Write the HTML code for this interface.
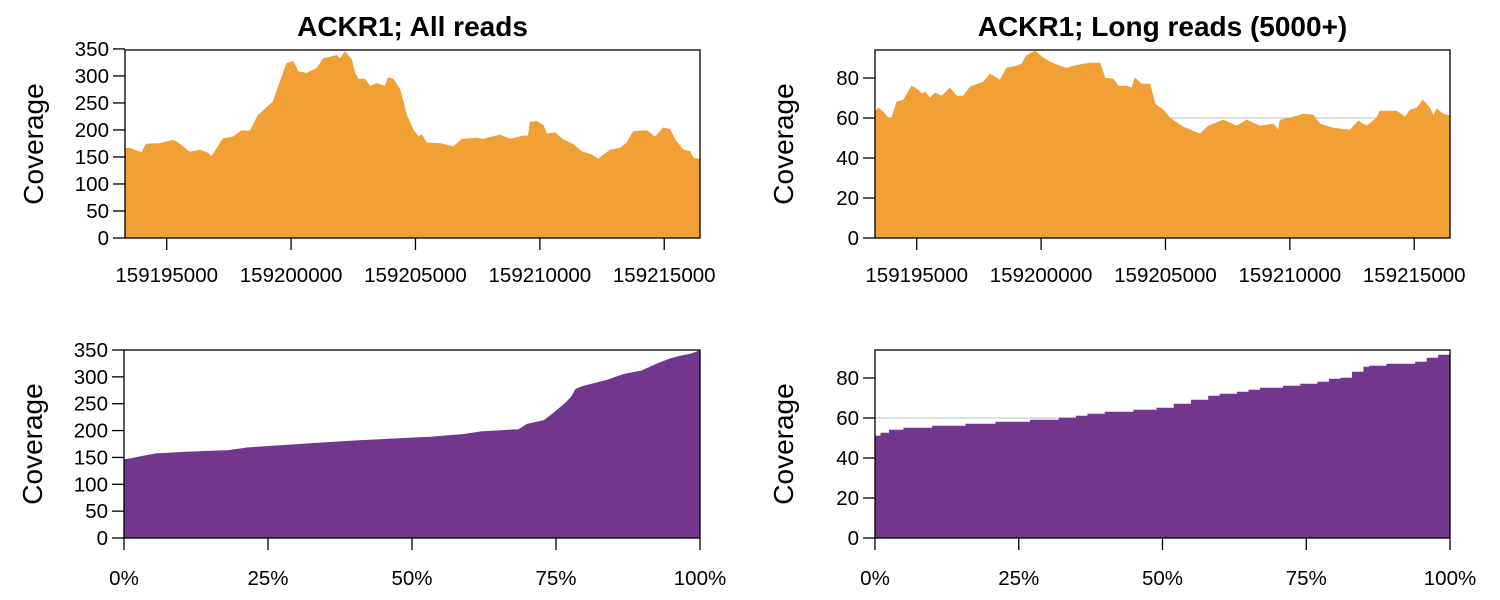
<!DOCTYPE html>
<html><head><meta charset="utf-8"><style>
html,body{margin:0;padding:0;background:#fff;}
svg{display:block;font-family:"Liberation Sans",Arial,sans-serif;}
</style></head><body>
<svg id="chart" width="1500" height="600" viewBox="0 0 1500 600" xmlns="http://www.w3.org/2000/svg"></svg>
<script>
// ---- data ----
const regionStart = 159193323;
const regionLength = 23115;
const genomicTicks = [159195000, 159200000, 159205000, 159210000, 159215000];
const allOffsets = [0,201,671,844,1407,1930,2078,2613,3015,3337,3485,3940,4342,4691,5025,5347,5950,6231,6500,6766,6967,7304,7706,7972,8510,8643,8844,9113,9246,9379,9648,9849,10118,10452,10585,10786,11055,11324,11590,11791,11928,12128,12261,12663,13198,13535,14138,14404,15075,15477,16012,16213,16281,16550,16816,16953,17286,17620,18022,18359,18761,19027,19497,19899,20168,20434,20972,21306,21640,21909,22110,22444,22713,22845,23115];
const allCoverage = [166,166,158,174,175,181,178,159,163,157,151,184,187,199,198,227,252,289,323,327,308,305,314,332,338,332,345,330,305,294,294,281,286,281,297,294,275,227,200,188,191,176,176,175,169,183,185,183,191,183,189,189,214,216,208,193,195,182,173,160,154,146,163,166,176,197,199,187,204,201,182,163,160,148,146];
const longOffsets = [0,133,334,535,671,872,1138,1475,1741,1877,2010,2211,2412,2681,3015,3284,3550,3819,4354,4623,5025,5294,5696,5897,6070,6432,6766,7035,7437,7706,7972,8374,8643,9045,9246,9580,9781,10118,10319,10452,10721,11055,11256,11590,11859,12394,13065,13399,14002,14540,14942,15477,16012,16213,16281,16816,17219,17620,17889,18424,19095,19429,19766,20168,20301,20972,21306,21507,21777,22018,22311,22444,22580,22845,23115];
const longCoverage = [63,65,63,60,60,68,69,76,74,72,73,70,72.5,71,75,71,71,75.5,78,82,79,85,86,87,91,93.5,90,88,86,85,86,87,87.5,87.5,80,79.5,76,76,75,80,77,77,67,64,60,55.5,52,56,59,56,59,56,57,54,59,60.5,62,61.5,57,55,54,58.5,56,60,63.5,63.5,60.5,64,65,69,65,61,64.5,62,61];
const allQuantFrac = [0,0.012,0.031,0.056,0.108,0.181,0.214,0.254,0.327,0.400,0.473,0.532,0.590,0.620,0.685,0.700,0.729,0.744,0.766,0.777,0.784,0.795,0.839,0.868,0.898,0.927,0.949,0.963,0.985,1];
const allQuantValue = [146,148,152,157,160,163,168,171,176,181,185,188,193,198,202,212,219,231,251,263,277,282,294,305,311,325,334,338,343,349];
const longQuantFrac = [0,0.01,0.025,0.05,0.1,0.158,0.21,0.27,0.32,0.35,0.37,0.40,0.45,0.49,0.52,0.55,0.58,0.60,0.63,0.65,0.67,0.71,0.74,0.77,0.79,0.81,0.83,0.85,0.86,0.89,0.92,0.94,0.96,0.98,1];
const longQuantValue = [51,52.5,54,55,56,57,58,59,60,61,62,63,64,65,67,69,71,72,73,74,75,76,77,78,79.5,80,83,85.5,86,87,87,88,90,91.5,93];
const allYTicks = [0,50,100,150,200,250,300,350];
const longYTicks = [0,20,40,60,80];
const pctTicks = [0,0.25,0.5,0.75,1];
const pctLabels = ["0%","25%","50%","75%","100%"];
const refLine = 60;

const NS = "http://www.w3.org/2000/svg";
const svg = document.getElementById("chart");
function mk(tag, attrs, parent){
  const e = document.createElementNS(NS, tag);
  for (const k in attrs) e.setAttribute(k, attrs[k]);
  (parent||svg).appendChild(e);
  return e;
}

function panel(opt){
  const g = mk("g", {});
  
  
  const L=opt.x0, R=opt.x1, T=opt.top, B=opt.bottom;
  const ys = v => B - (v/opt.ymax)*(B-T);
  const xs = opt.xs;
  if (opt.ref !== undefined){
    const rl = mk("line",{x1:L,x2:R,y1:ys(opt.ref),y2:ys(opt.ref),stroke:"#cccccc","stroke-width":1.2},g);
    
    
  }
  let d = "M"+xs(opt.xv[0])+","+B;
  for (let i=0;i<opt.xv.length;i++){
    const x = xs(opt.xv[i]), y = ys(opt.yv[i]);
    if (opt.step && i>0) d += " L"+x+","+ys(opt.yv[i-1]);
    d += " L"+x+","+y;
  }
  d += " L"+xs(opt.xv[opt.xv.length-1])+","+B+" Z";
  const area = mk("path",{d:d,fill:opt.color,stroke:opt.color,"stroke-width":0.6},g);
  
  
  const box = mk("rect",{x:L,y:T,width:R-L,height:B-T,fill:"none",stroke:"#000","stroke-width":1.3},g);
  
  
  opt.yticks.forEach(v=>{
    const y=ys(v);
    const t = mk("line",{x1:L-12,x2:L,y1:y,y2:y,stroke:"#000","stroke-width":1.3},g);
    
    
    const tx = mk("text",{x:L-16,y:y+7,"text-anchor":"end","font-size":20.5},g);
    tx.textContent = v;
    
    
  });
  opt.xticks.forEach((v,i)=>{
    const x=xs(v);
    const t = mk("line",{x1:x,x2:x,y1:B,y2:B+12,stroke:"#000","stroke-width":1.3},g);
    
    
    const tx = mk("text",{x:x,y:opt.xLabelY,"text-anchor":"middle","font-size":20.5},g);
    tx.textContent = opt.xlabels[i];
    
    
  });
  const yt = mk("text",{x:0,y:0,"text-anchor":"middle","font-size":28,transform:"translate("+(L-82)+","+((T+B)/2)+") rotate(-90)"},g);
  yt.textContent = "Coverage";
  
  
  if (opt.title){
    const tt = mk("text",{x:(L+R)/2,y:T-14,"text-anchor":"middle","font-size":28,"font-weight":"bold"},g);
    tt.textContent = opt.title;
    
    
  }
}

function genX(L,R){ return v => L + (v-regionStart)/regionLength*(R-L); }
function pctX(L,R){ return v => L + v*(R-L); }

panel({name:"all-reads-coverage-panel",areaName:"all-reads-coverage-area",x0:125,x1:700,top:50,bottom:238,ymax:348,color:"#F0A035",
  xs:genX(125,700),xv:allOffsets.map(o=>regionStart+o),yv:allCoverage,step:false,
  yticks:allYTicks,xticks:genomicTicks,xlabels:genomicTicks.map(String),xLabelY:282,title:"ACKR1; All reads"});
panel({name:"long-reads-coverage-panel",areaName:"long-reads-coverage-area",x0:875,x1:1450,top:50,bottom:238,ymax:94,color:"#F0A035",
  xs:genX(875,1450),xv:longOffsets.map(o=>regionStart+o),yv:longCoverage,ref:refLine,step:false,
  yticks:longYTicks,xticks:genomicTicks,xlabels:genomicTicks.map(String),xLabelY:282,title:"ACKR1; Long reads (5000+)"});
panel({name:"all-reads-sorted-panel",areaName:"all-reads-sorted-area",x0:124,x1:700,top:350,bottom:538,ymax:350,color:"#72378C",
  xs:pctX(124,700),xv:allQuantFrac,yv:allQuantValue,step:false,
  yticks:allYTicks,xticks:pctTicks,xlabels:pctLabels,xLabelY:585});
panel({name:"long-reads-sorted-panel",areaName:"long-reads-sorted-area",x0:875,x1:1450,top:350,bottom:538,ymax:94,color:"#72378C",
  xs:pctX(875,1450),xv:longQuantFrac,yv:longQuantValue,ref:refLine,step:true,
  yticks:longYTicks,xticks:pctTicks,xlabels:pctLabels,xLabelY:585});
</script>
</body></html>
